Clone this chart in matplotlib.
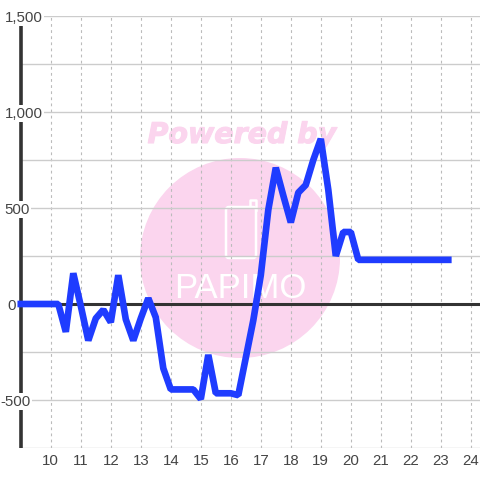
import matplotlib
matplotlib.use("Agg")
import matplotlib.pyplot as plt
import matplotlib.patheffects as pe
from matplotlib.lines import Line2D
from matplotlib.patches import Circle, FancyBboxPatch

plt.rcParams["font.family"] = ["Liberation Sans", "DejaVu Sans"]

hours = [9 + 0.25 * i for i in range(58)]
values = [0, 0, 0, 0, 0, 0, -145, 160, -10, -190, -75, -30, -95, 150, -80, -190, -75, 30, -70,
          -335, -445, -445, -445, -445, -495, -265, -465, -465, -465, -475, -280, -85, 150,
          490, 710, 565, 425, 580, 620, 750, 860, 595, 250, 375, 375, 230, 230, 230, 230,
          230, 230, 230, 230, 230, 230, 230, 230, 230]
x_ticks = list(range(10, 25))
y_grid = [-750, -500, -250, 0, 250, 500, 750, 1000, 1250, 1500]
y_labels = {1500: "1,500", 1000: "1,000", 500: "500", 0: "0", -500: "-500"}
# right edge of each y label, in pixels
label_right = {1500: 43, 1000: 43, 500: 30, 0: 16, -500: 31}

fig = plt.figure(figsize=(4.8, 4.8), dpi=100)
ax = fig.add_axes([20.5 / 480, 32 / 480, 459.5 / 480, 432 / 480])
ax.set_xlim(8.99, 24.307)
ax.set_ylim(-750, 1500)
ax.patch.set_visible(False)

for s in ["top", "right", "bottom"]:
    ax.spines[s].set_visible(False)
ax.spines["left"].set_linewidth(2.6)
ax.spines["left"].set_color("#333333")
ax.spines["left"].set_capstyle("butt")
ax.spines["left"].set_zorder(1)

# watermark
pink = "#fbd5ee"
fig.add_artist(Circle((240 / 480, 222 / 480), 100 / 480, transform=fig.transFigure,
                      facecolor=pink, edgecolor="none", zorder=-2))
fig.add_artist(FancyBboxPatch((226 / 480, 222 / 480), 30 / 480, 51 / 480,
                              boxstyle="round,pad=0,rounding_size=0.006", transform=fig.transFigure,
                              facecolor="none", edgecolor="white", linewidth=1.8, zorder=-1))
fig.add_artist(Line2D([250 / 480, 250 / 480, 256 / 480, 256 / 480], [273 / 480, 280 / 480, 280 / 480, 270 / 480],
                      transform=fig.transFigure, color="white", linewidth=1.8, zorder=-1))
fig.text(240 / 480, 191 / 480, "PAPIMO", color="white", fontsize=25, ha="center", va="center",
         family="Liberation Sans", zorder=-1)
fig.text(242 / 480, 345 / 480, "Powered by", color=pink, fontsize=20.5, ha="center", va="center",
         family="DejaVu Sans", fontweight="bold", fontstyle="italic", zorder=-1,
         path_effects=[pe.withStroke(linewidth=0.8, foreground=pink)])

ax.set_yticks(y_grid)
ax.set_yticklabels([])
ax.set_xticks(x_ticks)
ax.tick_params(axis="both", length=0)
ax.tick_params(axis="x", labelsize=10.8, labelcolor="#444444", pad=4.5)
ax.set_axisbelow(True)
ax.grid(axis="y", color="#cccccc", linewidth=1.0)
ax.grid(axis="x", color="#bbbbbb", linewidth=0.8, linestyle=(0, (2.5, 3)))
ax.axhline(0, color="#333333", linewidth=2.2, zorder=3)
ax.plot(hours, values, color="#1f3cff", linewidth=4.8, solid_joinstyle="bevel",
        solid_capstyle="projecting", zorder=5, clip_on=False)

trans = ax.get_yaxis_transform()
for val, text in y_labels.items():
    x_frac = (label_right[val] - 20.5) / 459.5
    ax.annotate(text, xy=(x_frac, val), xycoords=trans, xytext=(0, -1.5), textcoords="offset pixels",
                ha="right", va="center", fontsize=10.8, color="#444444", annotation_clip=False, zorder=4,
                bbox=dict(facecolor="white", edgecolor="none", pad=0.8))

fig.savefig("out.png", dpi=100)
